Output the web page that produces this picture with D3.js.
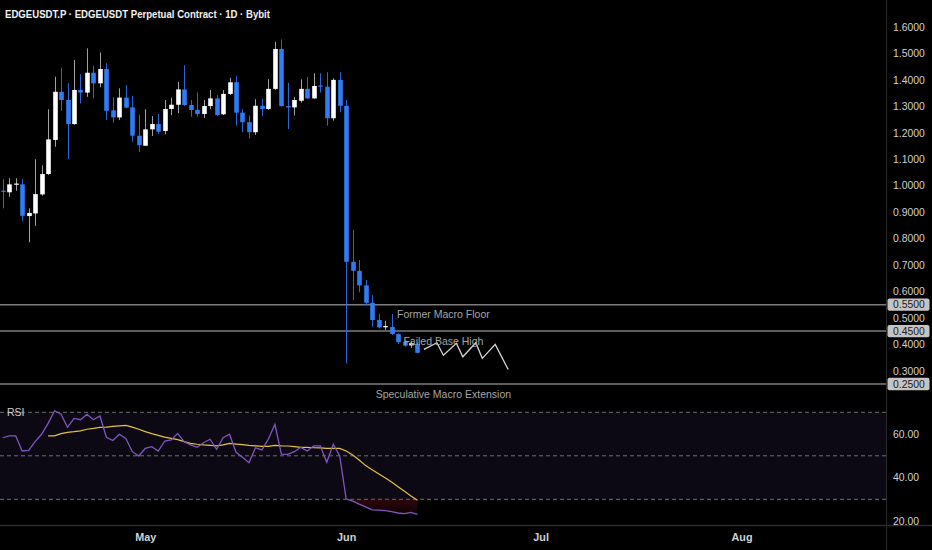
<!DOCTYPE html>
<html><head><meta charset="utf-8">
<script src="https://cdn.jsdelivr.net/npm/d3@7/dist/d3.min.js"></script>
<style>html,body{margin:0;padding:0;background:#000;overflow:hidden}svg{display:block}</style>
</head><body><svg id="c" width="932" height="550"></svg>
<script>
// ---------------- DATA ----------------
const title = "EDGEUSDT.P · EDGEUSDT Perpetual Contract · 1D · Bybit";
const dates = [
"2025-04-09","2025-04-10","2025-04-11","2025-04-12","2025-04-13","2025-04-14","2025-04-15","2025-04-16","2025-04-17","2025-04-18",
"2025-04-19","2025-04-20","2025-04-21","2025-04-22","2025-04-23","2025-04-24","2025-04-25","2025-04-26","2025-04-27","2025-04-28",
"2025-04-29","2025-04-30","2025-05-01","2025-05-02","2025-05-03","2025-05-04","2025-05-05","2025-05-06","2025-05-07","2025-05-08",
"2025-05-09","2025-05-10","2025-05-11","2025-05-12","2025-05-13","2025-05-14","2025-05-15","2025-05-16","2025-05-17","2025-05-18",
"2025-05-19","2025-05-20","2025-05-21","2025-05-22","2025-05-23","2025-05-24","2025-05-25","2025-05-26","2025-05-27","2025-05-28",
"2025-05-29","2025-05-30","2025-05-31","2025-06-01","2025-06-02","2025-06-03","2025-06-04","2025-06-05","2025-06-06","2025-06-07",
"2025-06-08","2025-06-09","2025-06-10","2025-06-11","2025-06-12"];
const open = [
0.981,0.975,1.004,1.005,0.885,0.895,0.967,1.044,1.173,1.355,
1.324,1.233,1.362,1.352,1.427,1.387,1.441,1.285,1.258,1.333,
1.296,1.189,1.151,1.213,1.233,1.207,1.290,1.306,1.364,1.305,
1.287,1.271,1.301,1.330,1.270,1.347,1.391,1.276,1.240,1.202,
1.302,1.290,1.366,1.517,1.301,1.296,1.321,1.366,1.330,1.379,
1.374,1.255,1.400,1.302,0.712,0.678,0.623,0.557,0.492,0.465,
0.466,0.439,0.410,0.396,0.401];
const high = [
1.024,1.028,1.028,1.025,0.914,1.100,1.077,1.289,1.412,1.446,
1.387,1.475,1.421,1.519,1.453,1.504,1.463,1.334,1.368,1.381,
1.340,1.268,1.289,1.263,1.271,1.324,1.333,1.392,1.456,1.324,
1.352,1.324,1.362,1.343,1.362,1.408,1.415,1.290,1.265,1.327,
1.328,1.403,1.544,1.553,1.389,1.336,1.402,1.411,1.425,1.425,
1.429,1.406,1.429,1.324,0.832,0.719,0.643,0.586,0.515,0.489,
0.515,0.442,0.416,0.412,0.406];
const low = [
0.914,0.958,0.981,0.867,0.786,0.848,0.962,1.040,1.147,1.283,
1.101,1.230,1.311,1.336,1.330,1.372,1.248,1.238,1.248,1.293,
1.166,1.128,1.150,1.188,1.195,1.194,1.267,1.274,1.301,1.261,
1.261,1.256,1.289,1.263,1.267,1.343,1.227,1.202,1.179,1.192,
1.263,1.286,1.362,1.299,1.214,1.265,1.314,1.328,1.328,1.352,
1.227,1.246,1.277,0.328,0.567,0.597,0.549,0.467,0.460,0.454,
0.435,0.401,0.391,0.386,0.366];
const close = [
0.978,1.005,1.008,0.886,0.897,0.968,1.044,1.175,1.355,1.324,
1.233,1.362,1.352,1.427,1.387,1.441,1.283,1.258,1.333,1.295,
1.189,1.153,1.213,1.233,1.204,1.290,1.306,1.364,1.305,1.286,
1.271,1.301,1.330,1.267,1.347,1.391,1.276,1.240,1.202,1.302,
1.290,1.366,1.517,1.301,1.296,1.324,1.366,1.330,1.377,1.376,
1.255,1.400,1.302,0.712,0.678,0.623,0.557,0.492,0.464,0.469,
0.439,0.408,0.395,0.404,0.368];
const rsi = [
58.3,59.2,59.2,52.2,52.5,56.5,59.9,64.9,70.7,69.1,
63.1,67.2,66.6,69.1,66.6,68.3,58.5,57.0,59.9,58.0,
51.9,49.9,53.4,54.2,52.2,56.8,57.3,60.3,56.5,55.0,
53.9,56.0,57.6,53.0,58.3,59.9,51.6,49.3,46.8,53.7,
52.7,57.7,64.5,50.8,50.7,51.9,53.9,52.2,54.6,54.6,
47.0,55.3,49.9,30.1,29.2,27.8,26.5,25.1,25.0,24.8,
24.3,23.7,23.4,24.0,23.1];
const rsiMAStartIndex = 7;
const rsiMA = [
59.2,59.2,60.2,60.8,61.1,61.5,62.2,62.6,63.1,63.2,
63.5,63.8,64.0,63.2,62.2,61.1,60.2,59.4,58.6,58.0,
57.4,56.5,55.7,55.3,55.0,54.8,54.6,55.0,55.7,55.4,
55.1,54.8,54.6,54.3,54.3,54.8,54.6,54.5,54.2,53.9,
53.9,53.7,53.6,53.4,53.4,53.4,52.2,50.4,48.1,45.5,
43.6,41.8,39.9,37.9,35.8,33.7,31.5,29.6];
const projDates = ["2025-06-13","2025-06-15","2025-06-16","2025-06-18","2025-06-19","2025-06-21","2025-06-22","2025-06-24","2025-06-26"];
const projPrices = [0.381,0.406,0.359,0.404,0.353,0.406,0.347,0.400,0.305];
const levels = [0.55, 0.45, 0.25];
const levelLabels = ["Former Macro Floor","Failed Base High","Speculative Macro Extension"];
const levelLabelDate = "2025-06-16";
const priceTicks = [0.3,0.4,0.5,0.6,0.7,0.8,0.9,1.0,1.1,1.2,1.3,1.4,1.5,1.6];
const rsiLines = [70,50,30];
const rsiTicks = [60,40,20];

// ---------------- LAYOUT ----------------
const W = 932, H = 550;
const plotR = 886;
const DAY = 864e5;
const parse = d3.utcParse("%Y-%m-%d");
const t0 = parse(dates[0]).getTime();
const x = d3.scaleUtc()
  .domain([new Date(t0 - 0.42*DAY), new Date(t0 + 136.3*DAY)])
  .range([0, plotR]);
const y = d3.scaleLinear().domain([0.25, 1.6]).range([384, 27]);
const yR = d3.scaleLinear().domain([30, 70]).range([499.3, 412.3]);

const UP = "#ffffff", DOWN = "#2f7cf6";
const UPW = "#a2a2a2", DOWNW = "#2a66d9";
const AX = "#cfd2d8";
const FONT = "'Liberation Sans', Arial, sans-serif";

const svg = d3.select("#c");
svg.append("rect").attr("width", W).attr("height", H).attr("fill", "#000");

const data = dates.map((d, i) => ({d: parse(d), o: open[i], h: high[i], l: low[i], c: close[i], r: rsi[i]}));

// ---------------- PRICE PANE ----------------
const gp = svg.append("g");
gp.selectAll("line.lvl").data(levels).join("line")
  .attr("x1", 0).attr("x2", plotR)
  .attr("y1", d => y(d)).attr("y2", d => y(d))
  .attr("stroke", "#7c7c7c").attr("stroke-width", 1.5);

const bw = 4.6;
const cg = gp.append("g");
cg.selectAll("line.wick").data(data).join("line")
  .attr("x1", d => Math.round(x(d.d)) + 0.5).attr("x2", d => Math.round(x(d.d)) + 0.5)
  .attr("y1", d => y(d.h)).attr("y2", d => y(d.l))
  .attr("stroke", d => d.c >= d.o ? UPW : DOWNW).attr("stroke-width", 1);
cg.selectAll("rect.body").data(data).join("rect")
  .attr("x", d => Math.round(x(d.d)) + 0.5 - bw/2)
  .attr("width", bw)
  .attr("y", d => y(Math.max(d.o, d.c)))
  .attr("height", d => Math.max(1.2, Math.abs(y(d.o) - y(d.c))))
  .attr("fill", d => d.c >= d.o ? UP : DOWN);

const proj = projDates.map((d, i) => [parse(d), projPrices[i]]);
gp.append("path").datum(proj)
  .attr("d", d3.line().x(d => x(d[0])).y(d => y(d[1])))
  .attr("fill", "none").attr("stroke", "#d6d6d6").attr("stroke-width", 1.3);

gp.selectAll("text.lab").data(levels).join("text")
  .attr("x", x(parse(levelLabelDate)))
  .attr("y", d => y(d) + 13.5)
  .attr("text-anchor", "middle")
  .attr("font-family", FONT).attr("font-size", 10.5)
  .attr("fill", "#a6a6a6")
  .text((d, i) => levelLabels[i]);

svg.append("text").attr("x", 5).attr("y", 17.5)
  .attr("font-family", FONT).attr("font-size", 11.2).attr("font-weight", "bold")
  .attr("fill", "#f2f2f2")
  .attr("textLength", 265).attr("lengthAdjust", "spacingAndGlyphs")
  .text(title);

// ---------------- RSI PANE ----------------
const gr = svg.append("g");
gr.append("rect").attr("x", 0).attr("width", plotR)
  .attr("y", yR(70)).attr("height", yR(30) - yR(70))
  .attr("fill", "rgba(126,87,194,0.1)");
gr.selectAll("line.band").data(rsiLines).join("line")
  .attr("x1", 0).attr("x2", plotR)
  .attr("y1", d => yR(d)).attr("y2", d => yR(d))
  .attr("stroke", "#6f6f6f").attr("stroke-width", 1)
  .attr("stroke-dasharray", "4,3");

const defs = svg.append("defs");
const grad = defs.append("linearGradient").attr("id", "os")
  .attr("gradientUnits", "userSpaceOnUse")
  .attr("x1", 0).attr("x2", 0).attr("y1", yR(30)).attr("y2", yR(22));
grad.append("stop").attr("offset", "0%").attr("stop-color", "rgba(170,25,45,0.28)");
grad.append("stop").attr("offset", "100%").attr("stop-color", "rgba(170,25,45,0.04)");
const os = data.filter(d => d.r <= 30.2);
gr.append("path").datum(os)
  .attr("d", d3.area().x(d => x(d.d)).y0(yR(30)).y1(d => yR(Math.min(30, d.r))))
  .attr("fill", "url(#os)");

const maData = rsiMA.map((v, i) => [data[i + rsiMAStartIndex].d, v]);
gr.append("path").datum(maData)
  .attr("d", d3.line().x(d => x(d[0])).y(d => yR(d[1])))
  .attr("fill", "none").attr("stroke", "#e3c23f").attr("stroke-width", 1.2);
gr.append("path").datum(data)
  .attr("d", d3.line().x(d => x(d.d)).y(d => yR(d.r)))
  .attr("fill", "none").attr("stroke", "#7e57c2").attr("stroke-width", 1.3);

gr.append("text").attr("x", 7).attr("y", 415.5)
  .attr("font-family", FONT).attr("font-size", 10.5).attr("fill", AX).text("RSI");

// ---------------- AXES ----------------
svg.append("line").attr("x1", plotR + 0.5).attr("x2", plotR + 0.5).attr("y1", 0).attr("y2", H)
  .attr("stroke", "#2b2b2b");
svg.append("line").attr("x1", 0).attr("x2", W).attr("y1", 525.5).attr("y2", 525.5)
  .attr("stroke", "#2b2b2b").attr("stroke-width", 1.5);

const styleAxis = g => {
  g.select(".domain").remove();
  g.selectAll("line").remove();
  g.selectAll("text").attr("fill", AX).attr("font-family", FONT);
};

svg.append("g").attr("transform", `translate(${plotR},0)`)
  .call(d3.axisRight(y).tickValues(priceTicks).tickFormat(d3.format(".4f")).tickSize(0).tickPadding(7))
  .call(styleAxis)
  .call(g => g.selectAll("text").attr("font-size", 10.4));

svg.append("g").attr("transform", `translate(${plotR},0)`)
  .call(d3.axisRight(yR).tickValues(rsiTicks).tickFormat(d3.format(".2f")).tickSize(0).tickPadding(7))
  .call(styleAxis)
  .call(g => g.selectAll("text").attr("font-size", 10.4));

const tags = svg.append("g").selectAll("g").data(levels).join("g")
  .attr("transform", d => `translate(${plotR + 1},${y(d)})`);
tags.append("rect").attr("x", 0.5).attr("y", -6.2).attr("width", 42).attr("height", 12.4).attr("rx", 2)
  .attr("fill", "#c4c4c4");
tags.append("text").attr("x", 6).attr("y", 0).attr("dy", "0.34em")
  .attr("font-family", FONT).attr("font-size", 10.4).attr("fill", "#202020")
  .text(d => d3.format(".4f")(d));

svg.append("g").attr("transform", `translate(0,526)`)
  .call(d3.axisBottom(x).ticks(d3.utcMonth.every(1)).tickFormat(d3.utcFormat("%b")).tickSize(0).tickPadding(7))
  .call(styleAxis)
  .call(g => g.selectAll("text").attr("font-size", 10.8).attr("font-weight", "bold"));
</script>
</body></html>
